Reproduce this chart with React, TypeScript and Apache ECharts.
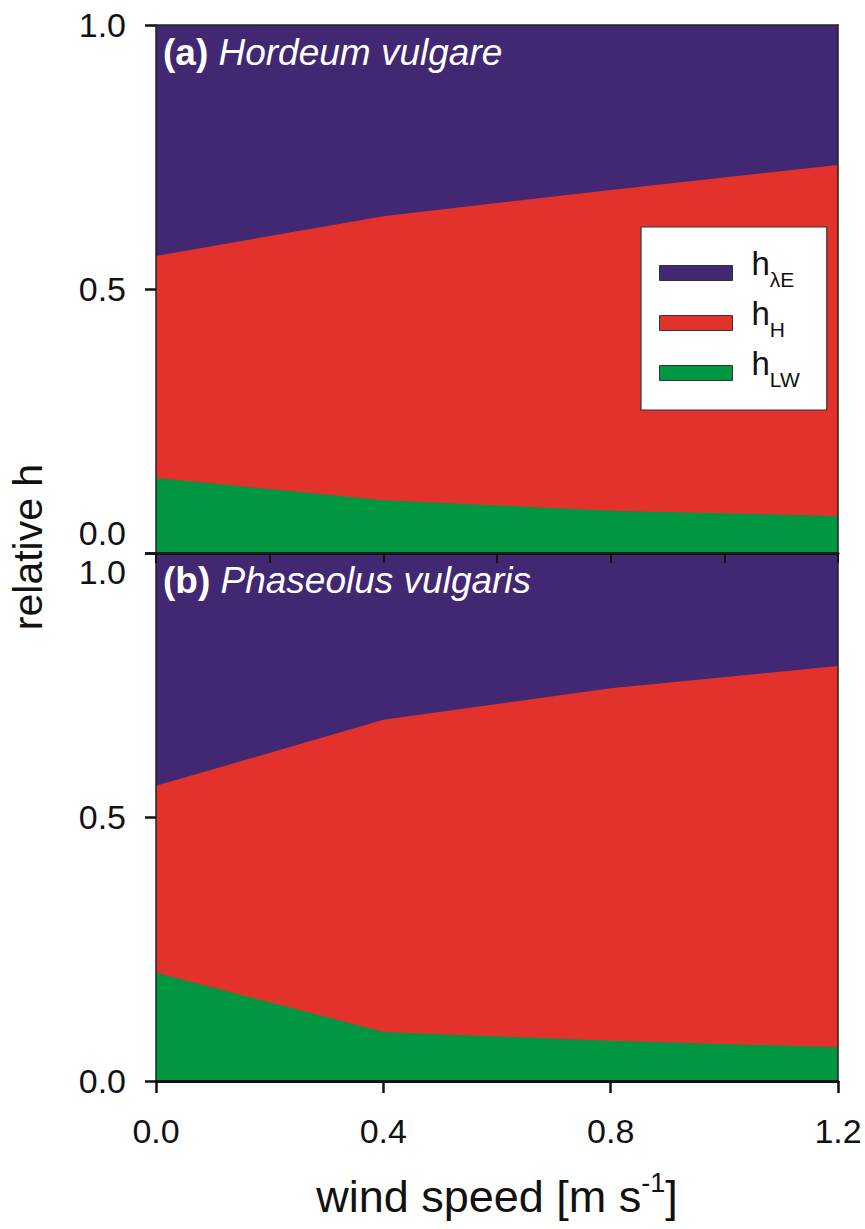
import React, { useEffect, useRef } from 'react';
import * as echarts from 'echarts';

const windSpeed = [0, 0.4, 0.8, 1.2];
// Panel (a) Hordeum vulgare — relative contributions
const hLW_a = [0.142, 0.1, 0.08, 0.07];
const hH_a = [0.4205, 0.538, 0.6075, 0.665];
const hLE_a = [0.4375, 0.362, 0.3125, 0.265];
// Panel (b) Phaseolus vulgaris
const hLW_b = [0.205, 0.093, 0.076, 0.064];
const hH_b = [0.354, 0.591, 0.668, 0.722];
const hLE_b = [0.441, 0.316, 0.256, 0.214];

const seriesNames = ['hλE', 'hH', 'hLW'];
const seriesSubs: Record<string, string> = { 'hλE': 'λE', hH: 'H', hLW: 'LW' };
const colors: Record<string, string> = { 'hλE': '#422873', hH: '#E2322B', hLW: '#019641' };
const panelTitles = [
  ['(a)', 'Hordeum vulgare'],
  ['(b)', 'Phaseolus vulgaris'],
];

const FONT = '"Liberation Sans", Arial, sans-serif';

export default function App() {
  const ref = useRef<HTMLDivElement>(null);
  useEffect(() => {
    if (!ref.current) return;
    const chart = echarts.init(ref.current, null, { renderer: 'svg' });
    // cumulative tops (stack from bottom: LW, H, λE)
    const cum = (...arrs: number[][]) => windSpeed.map((_, i) => arrs.reduce((s, a) => s + a[i], 0));
    const mk = (name: string, tops: number[], gi: number) => ({
      name,
      type: 'line',
      xAxisIndex: gi * 2,
      yAxisIndex: gi * 2,
      data: windSpeed.map((x, i) => [x, tops[i]]),
      symbol: 'none',
      lineStyle: { width: 0 },
      itemStyle: { color: colors[name] },
      areaStyle: { color: colors[name], opacity: 1, origin: 'start' },
      z: 2,
    });
    const lbl = { fontSize: 34, color: '#111', fontFamily: FONT };
    const grids = [
      { left: 156, top: 25, width: 682, height: 528 },
      { left: 156, top: 553, width: 682, height: 528 },
    ];
    const borderAxisX = (gi: number, w: number) => ({
      type: 'value', gridIndex: gi, position: 'top', min: 0, max: 1.2, z: 10,
      axisLine: { show: true, onZero: false, lineStyle: { color: '#222', width: w } },
      axisTick: { show: false }, axisLabel: { show: false }, splitLine: { show: false },
    });
    const borderAxisY = (gi: number) => ({
      type: 'value', gridIndex: gi, position: 'right', min: 0, max: 1, z: 10,
      axisLine: { show: true, onZero: false, lineStyle: { color: '#222', width: 1.5 } },
      axisTick: { show: false }, axisLabel: { show: false }, splitLine: { show: false },
    });
    const yMain = (gi: number) => ({
      type: 'value', gridIndex: gi, position: 'left', min: 0, max: 1, interval: 0.5, z: 10,
      axisLine: { show: true, onZero: false, lineStyle: { color: '#222', width: 1.5 } },
      axisTick: { show: true, length: 11, lineStyle: { color: '#111', width: 2.5 } },
      splitLine: { show: false },
      axisLabel: {
        margin: 30,
        ...lbl,
        formatter: (v: number) => {
          const s = v.toFixed(1);
          if (gi === 0 && v === 0) return '{lo|' + s + '}';
          if (gi === 1 && v === 1) return '{hi|' + s + '}';
          return '{n|' + s + '}';
        },
        rich: {
          n: { ...lbl },
          lo: { ...lbl, padding: [0, 0, 40, 0] },
          hi: { ...lbl, padding: [38, 0, 0, 0] },
        },
      },
    });
    const option = {
      animation: false,
      backgroundColor: '#fff',
      grid: grids,
      title: panelTitles.map((t, i) => ({
        text: '{b|' + t[0] + ' }{i|' + t[1] + '}',
        left: 158,
        top: i === 0 ? 29 : 557,
        z: 20,
        textStyle: {
          fontWeight: 'normal',
          rich: {
            b: { fontSize: 37, fontWeight: 'bold', color: '#fff', fontFamily: FONT },
            i: { fontSize: 37, fontStyle: 'italic', fontWeight: 'normal', color: '#fff', fontFamily: FONT },
          },
        },
      })),
      legend: {
        orient: 'vertical',
        left: 641,
        top: 227,
        z: 20,
        backgroundColor: '#fff',
        borderColor: '#333',
        borderWidth: 1.2,
        borderRadius: 0,
        padding: [20, 27, 20, 18],
        itemWidth: 73,
        itemHeight: 15,
        itemGap: 7,
        icon: 'rect',
        data: seriesNames.map((n) => ({
          name: n,
          itemStyle: { color: colors[n], borderColor: '#333', borderWidth: 1 },
        })),
        formatter: (name: string) => '{h|h}{s|' + seriesSubs[name] + '}',
        textStyle: {
          rich: {
            h: { fontSize: 33, lineHeight: 34, padding: [0, 0, 10, 14], verticalAlign: 'bottom', color: '#111', fontFamily: FONT },
            s: { fontSize: 21, lineHeight: 22, verticalAlign: 'bottom', color: '#111', fontFamily: FONT },
          },
        },
      },
      xAxis: [
        {
          type: 'value', gridIndex: 0, position: 'bottom', min: 0, max: 1.2, interval: 0.2, z: 10,
          axisLine: { show: true, onZero: false, lineStyle: { color: '#111', width: 3 } },
          axisTick: { show: true, length: 10, lineStyle: { color: '#111', width: 2 } },
          axisLabel: { show: false }, splitLine: { show: false },
        },
        borderAxisX(0, 1.5),
        {
          type: 'value', gridIndex: 1, position: 'bottom', min: 0, max: 1.2, interval: 0.4, z: 10,
          axisLine: { show: true, onZero: false, lineStyle: { color: '#111', width: 3 } },
          axisTick: { show: true, length: 12, lineStyle: { color: '#111', width: 2.5 } },
          axisLabel: { ...lbl, margin: 33, formatter: (v: number) => v.toFixed(1) },
          splitLine: { show: false },
          name: '{n|wind speed [m s}{sup|-1}{n|]}',
          nameLocation: 'middle',
          nameGap: 88,
          nameTextStyle: {
            rich: {
              n: { fontSize: 45, lineHeight: 50, verticalAlign: 'bottom', color: '#111', fontFamily: FONT },
              sup: { fontSize: 27, lineHeight: 28, verticalAlign: 'top', color: '#111', fontFamily: FONT },
            },
          },
        },
        borderAxisX(1, 1.5),
      ],
      yAxis: [yMain(0), borderAxisY(0), yMain(1), borderAxisY(1)],
      graphic: [
        {
          type: 'text',
          x: 28,
          y: 547,
          rotation: Math.PI / 2,
          style: {
            text: 'relative h',
            fontSize: 41,
            fontFamily: FONT,
            fill: '#111',
            align: 'center',
            verticalAlign: 'middle',
          },
        },
      ],
      series: [
        mk('hλE', cum(hLW_a, hH_a, hLE_a), 0),
        mk('hH', cum(hLW_a, hH_a), 0),
        mk('hLW', cum(hLW_a), 0),
        mk('hλE', cum(hLW_b, hH_b, hLE_b), 1),
        mk('hH', cum(hLW_b, hH_b), 1),
        mk('hLW', cum(hLW_b), 1),
      ],
    };
    chart.setOption(option as any);
    return () => chart.dispose();
  }, []);
  return (
    <div
      ref={ref}
      style={{ position: 'absolute', left: 0, top: 0, width: 865, height: 1229 }}
    />
  );
}
